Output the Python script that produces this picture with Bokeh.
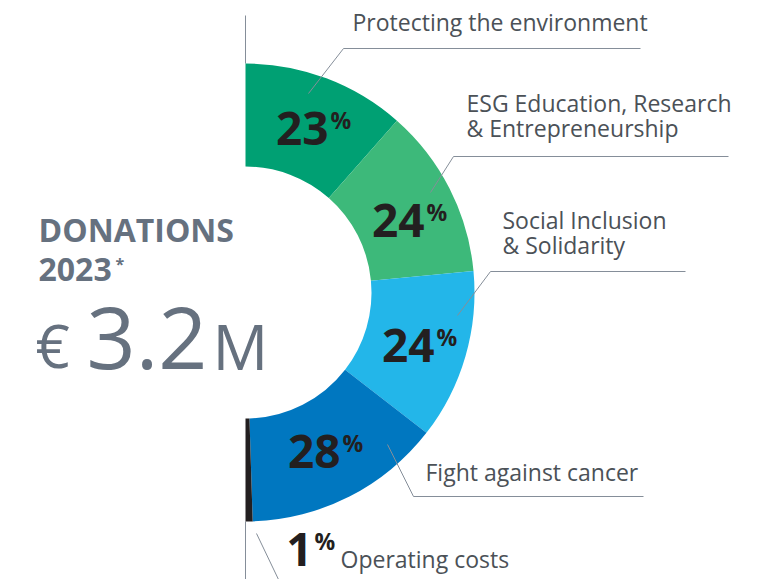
import numpy as np
from bokeh.plotting import figure
from bokeh.models import Range1d
from bokeh.embed import file_html
from bokeh.resources import INLINE
from bokeh.core.properties import value

# ---------------- data ----------------
categories = [
    ["Protecting the environment"],
    ["ESG Education, Research", "& Entrepreneurship"],
    ["Social Inclusion", "& Solidarity"],
    ["Fight against cancer"],
    ["Operating costs"],
]
shares = [23, 24, 24, 28, 1]
share_labels = ["23", "24", "24", "28", "1"]
title_lines = ["DONATIONS", "2023"]
total_parts = ["€", "3.2", "M"]

# ---------------- layout / style ----------------
W, H = 763, 579
def Y(py):
    return H - py

def B(py, size, k=0.40):
    # baseline correction for the svg text renderer
    return Y(py - k * size)

colors = ["#00a073", "#3db97a", "#23b6e9", "#0077c0", "#231f20"]
CX, CY = 245, Y(292)
R_IN, R_OUT = 126, 229
FONT = value("Open Sans")
TXT = "#4b5157"
GREY = "#66717f"
LEAD = "#858e99"

# percent label anchors: (digits right edge, digits baseline)
pct_pos = [(328, 145), (424, 237), (434, 362), (340, 468), (312, 566)]
# category label anchors: (left, first baseline)
cat_pos = [(352, 32), (466, 113), (502, 230), (425, 482), (340, 569)]
# leader lines: list of polylines in pixel coords
leaders = [
    [(640, 48), (343, 48), (308, 93)],
    [(728, 156), (453, 156), (430, 192)],
    [(685, 271), (490, 271), (457, 315)],
    [(643, 496), (413, 496), (387, 444)],
    [(278, 579), (256, 533)],
]

p = figure(width=W, height=H, x_range=Range1d(0, W), y_range=Range1d(0, H),
           output_backend="svg", toolbar_location=None, min_border=0,
           x_axis_type=None, y_axis_type=None, background_fill_color="white",
           border_fill_color="white")
p.grid.visible = False
p.outline_line_color = None

# vertical axis line through centre
p.segment(x0=[CX, CX], y0=[Y(15), Y(521)], x1=[CX, CX], y1=[Y(63), Y(579)],
          line_color=LEAD, line_width=1)

# wedges
frac = np.array(shares, dtype=float) / sum(shares)
cum = np.concatenate([[0], np.cumsum(frac)])
starts = np.pi / 2 - cum[:-1] * np.pi
ends = np.pi / 2 - cum[1:] * np.pi
p.annular_wedge(x=CX, y=CY, inner_radius=R_IN, outer_radius=R_OUT,
                start_angle=list(starts), end_angle=list(ends), direction="clock",
                fill_color=colors, line_color=None)

# leader lines
for pl in leaders:
    p.line(x=[a for a, b in pl], y=[Y(b) for a, b in pl], line_color=LEAD, line_width=1)

# percent labels
p.text(x=[a for a, b in pct_pos], y=[B(b, 46, 0.37) for a, b in pct_pos], text=share_labels,
       text_font=FONT, text_font_style="bold", text_font_size="46px",
       text_color="#231f20", text_align="right", text_baseline="alphabetic")
p.text(x=[a + 2 for a, b in pct_pos], y=[B(b - 16, 23, 0.43) for a, b in pct_pos],
       text=["%"] * len(share_labels),
       text_font=FONT, text_font_style="bold", text_font_size="23px",
       text_color="#231f20", text_align="left", text_baseline="alphabetic")

# category labels
xs, ys, ts = [], [], []
for (lx, ly), lines in zip(cat_pos, categories):
    for i, t in enumerate(lines):
        xs.append(lx)
        ys.append(B(ly + 25 * i, 23, 0.44))
        ts.append(t)
p.text(x=xs, y=ys, text=ts, text_font=FONT, text_font_size="23px",
       text_color=TXT, text_align="left", text_baseline="alphabetic")

# left title
p.text(x=[38, 38], y=[B(242, 32, 0.41), B(282, 32, 0.41)], text=title_lines, text_font=FONT,
       text_font_style="bold", text_font_size="32px", text_color=GREY,
       text_align="left", text_baseline="alphabetic")
p.text(x=[115], y=[B(270, 16, 0.42)], text=["*"], text_font=FONT, text_font_style="bold",
       text_font_size="16px", text_color=GREY, text_baseline="alphabetic")
p.text(x=[35, 86, 212], y=[B(368, 60, 0.40), B(370, 86, 0.38), B(370, 62, 0.40)],
       text=total_parts, text_font=FONT,
       text_font_size=["60px", "86px", "62px"], text_color=GREY,
       text_align="left", text_baseline="alphabetic")

open("out.html", "w").write(file_html(p, INLINE))
